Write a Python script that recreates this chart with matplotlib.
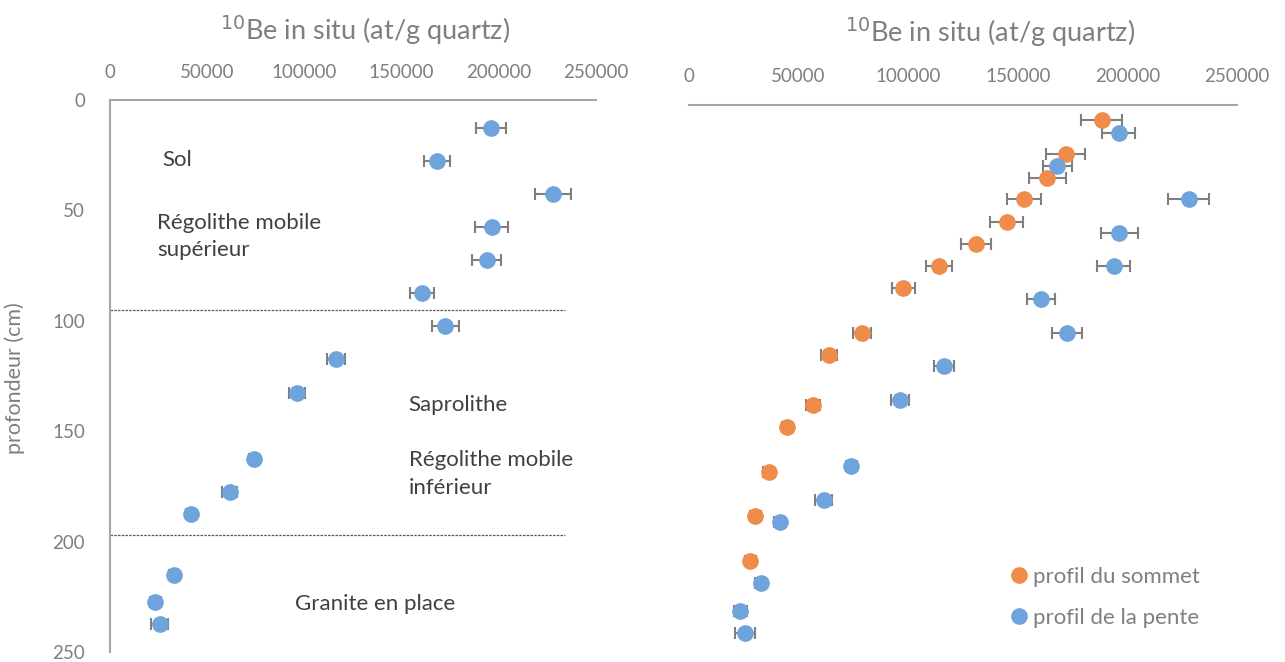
import matplotlib.pyplot as plt

plt.rcParams['font.family'] = ['Lato', 'DejaVu Sans']

# profil de la pente (slope profile) - same data in both panels
pente_be = [196000, 168000, 228000, 196300, 193700, 160500, 172400, 116300,
            96200, 74000, 61500, 41500, 32800, 23400, 25600]
pente_err = [7500, 6700, 9300, 8500, 7500, 6400, 7000, 4500,
             4100, 2500, 3800, 2500, 2500, 3000, 4400]
pente_depth = [12.5, 27.5, 42.5, 57.5, 72.5, 87.5, 102.5, 117.5,
               132.5, 162.5, 177.5, 187.5, 215, 227.5, 237.5]

# profil du sommet (summit profile)
sommet_be = [188200, 171800, 163500, 153000, 144900, 131000, 114100, 97700,
             78900, 64000, 56400, 44700, 36400, 30300, 27900]
sommet_err = [9500, 8800, 8300, 7700, 7500, 6800, 5900, 5200,
              4200, 3600, 3200, 2500, 2500, 2500, 2500]
sommet_depth = [7, 22, 33, 42.5, 52.5, 62.5, 72.5, 82.5,
                102.5, 112.5, 135, 145, 165, 185, 205]

# layer boundaries and labels (left panel)
boundaries = [95, 197]
layer_labels = ['Sol', 'Régolithe mobile\nsupérieur', 'Saprolithe',
                'Régolithe mobile\ninférieur', 'Granite en place']
layer_x = [26700, 24200, 153600, 153600, 95000]
layer_y = [27.2, 62, 138, 169.4, 228.3]

blue = '#6FA3DC'
orange = '#F08C4A'
err_col = '#7F7F7F'
spine_col = '#A6A6A6'
tick_col = '#7F7F7F'
text_col = '#404040'

fig = plt.figure(figsize=(12.85, 6.62), dpi=100)
ax1 = fig.add_axes([110 / 1285, 1 - 652 / 662, 486 / 1285, 552 / 662])
ax2 = fig.add_axes([689 / 1285, 1 - 661 / 662, 548 / 1285, 556.3 / 662])

for ax in (ax1, ax2):
    ax.set_xlim(0, 250000)
    ax.set_ylim(250, 0)
    ax.xaxis.tick_top()
    ax.set_xticks([0, 50000, 100000, 150000, 200000, 250000])
    ax.tick_params(axis='x', length=0, pad=14, labelsize=13.5, colors=tick_col)
    for s in ['bottom', 'right']:
        ax.spines[s].set_visible(False)
    ax.spines['top'].set_color(spine_col)
    ax.spines['top'].set_linewidth(1.5)

# left panel
ax1.spines['left'].set_color(spine_col)
ax1.spines['left'].set_linewidth(1.5)
ax1.set_yticks([0, 50, 100, 150, 200, 250])
ax1.tick_params(axis='y', length=0, pad=18, labelsize=13.5, colors=tick_col)
ax1.errorbar(pente_be, pente_depth, xerr=pente_err, fmt='none', ecolor=err_col,
             elinewidth=1.5, capsize=4.5, capthick=1.5, zorder=2)
ax1.plot(pente_be, pente_depth, 'o', color=blue, markersize=11, zorder=3)
for b in boundaries:
    ax1.plot([0, 234300], [b, b], color='#595959', linestyle=(0, (2, 1)),
             linewidth=0.9, zorder=1)
for lab, x, y in zip(layer_labels, layer_x, layer_y):
    ax1.text(x, y, lab, fontsize=16, color=text_col, ha='left', va='center',
             linespacing=1.45)
fig.text(15 / 1285, 1 - 378 / 662, 'profondeur (cm)', rotation=90, fontsize=15.5,
         color=tick_col, ha='center', va='center')

# right panel
ax2.spines['left'].set_visible(False)
ax2.set_yticks([])
ax2.errorbar(sommet_be, sommet_depth, xerr=sommet_err, fmt='none', ecolor=err_col,
             elinewidth=1.5, capsize=4.5, capthick=1.5, zorder=2)
ax2.errorbar(pente_be, pente_depth, xerr=pente_err, fmt='none', ecolor=err_col,
             elinewidth=1.5, capsize=4.5, capthick=1.5, zorder=2)
ax2.plot(sommet_be, sommet_depth, 'o', color=orange, markersize=11, zorder=3,
         label='profil du sommet')
ax2.plot(pente_be, pente_depth, 'o', color=blue, markersize=11, zorder=4,
         label='profil de la pente')
ax2.legend(loc='center left', bbox_to_anchor=(1006 / 1285, 1 - 597.5 / 662),
           bbox_transform=fig.transFigure, frameon=False, borderpad=0,
           borderaxespad=0, fontsize=16, labelcolor=tick_col, handletextpad=0.0,
           handlelength=1.2, labelspacing=0.95)

# axis titles
fig.text(365 / 1285, 1 - 30 / 662, r'$^{10}$Be in situ (at/g quartz)', fontsize=19.5,
         color=tick_col, ha='center', va='center')
fig.text(990 / 1285, 1 - 32 / 662, r'$^{10}$Be in situ (at/g quartz)', fontsize=19.5,
         color=tick_col, ha='center', va='center')

fig.savefig('out.png', dpi=100)
